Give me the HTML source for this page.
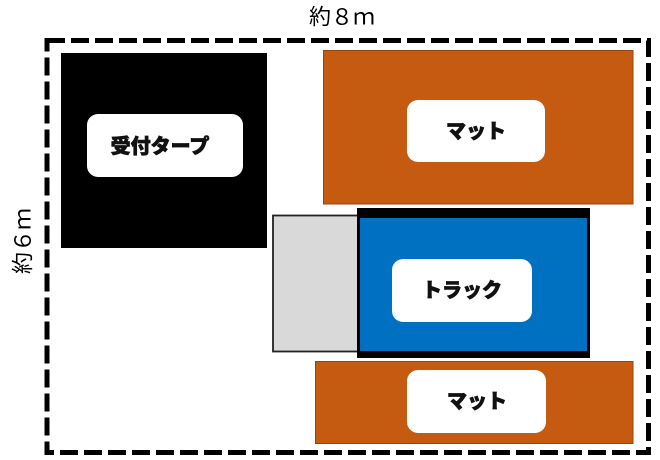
<!DOCTYPE html>
<html><head><meta charset="utf-8"><style>
html,body{margin:0;padding:0;background:#fff;}
svg{display:block;}
.lbl{font-family:"Liberation Sans","Noto Sans CJK JP",sans-serif;font-weight:900;font-size:20px;fill:#111;stroke:#111;stroke-width:0.7px;}
.dim{font-family:"Liberation Sans","Noto Sans CJK JP",sans-serif;font-size:22px;fill:#000;}
</style></head><body>
<svg width="660" height="460" viewBox="0 0 660 460" xmlns="http://www.w3.org/2000/svg">
<rect x="0" y="0" width="660" height="460" fill="#fff"/>
<!-- dashed boundary -->
<rect x="47" y="40.5" width="601.5" height="412" fill="none" stroke="#000" stroke-width="5" stroke-dasharray="18 6"/>
<!-- reception tarp -->
<rect x="61" y="53" width="206" height="195" fill="#000"/>
<rect x="87" y="114" width="156" height="63" rx="11" fill="#fff"/>
<text class="lbl" x="160" y="147" text-anchor="middle" dominant-baseline="central">受付タープ</text>
<!-- top mat -->
<rect x="323.5" y="50.5" width="309.5" height="153.5" fill="#C55A11" stroke="#9c4410" stroke-width="1"/>
<rect x="407" y="100" width="138" height="62" rx="11" fill="#fff"/>
<text class="lbl" x="476" y="132" text-anchor="middle" dominant-baseline="central">マット</text>
<!-- gray cab area -->
<rect x="273" y="215.5" width="86" height="136" fill="#D9D9D9" stroke="#222" stroke-width="1.8"/>
<!-- truck -->
<rect x="357" y="208" width="233" height="150" fill="#000"/>
<rect x="360" y="218" width="227" height="133" fill="#0070C0"/>
<rect x="392" y="259" width="140" height="63" rx="11" fill="#fff"/>
<text class="lbl" x="462" y="291" text-anchor="middle" dominant-baseline="central">トラック</text>
<!-- bottom mat -->
<rect x="315.5" y="361.5" width="317.5" height="82" fill="#C55A11" stroke="#9c4410" stroke-width="1"/>
<rect x="407" y="370" width="139" height="63" rx="11" fill="#fff"/>
<text class="lbl" x="477" y="402" text-anchor="middle" dominant-baseline="central">マット</text>
<!-- dimension labels -->
<text class="dim" x="342" y="17" text-anchor="middle" dominant-baseline="central">約８ｍ</text>
<text class="dim" x="0" y="0" text-anchor="middle" dominant-baseline="central" transform="translate(23,241) rotate(-90)">約６ｍ</text>
</svg>
</body></html>
